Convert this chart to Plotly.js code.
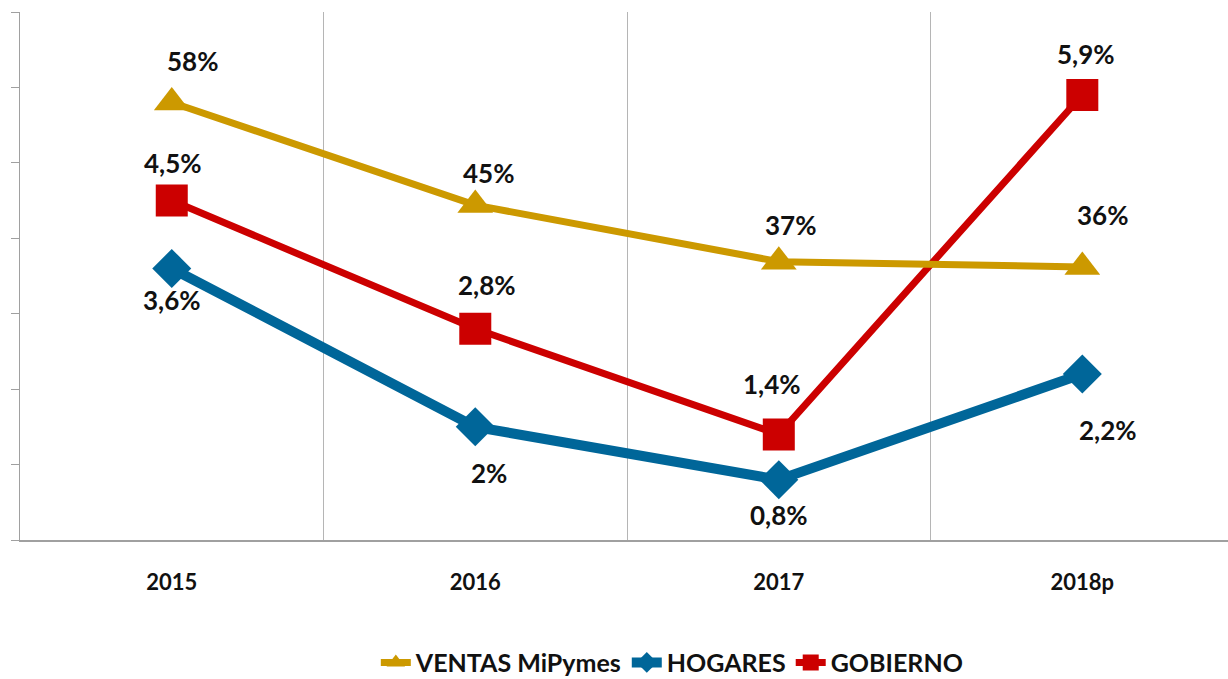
<!DOCTYPE html>
<html>
<head>
<meta charset="utf-8">
<script src="https://cdn.plot.ly/plotly-3.0.1.min.js"></script>
<style>html,body{margin:0;padding:0;background:#fff;}#chart{width:1228px;height:679px;}</style>
</head>
<body>
<div id="chart"></div>
<script>
const years = ['2015', '2016', '2017', '2018p'];

const ventasName = 'VENTAS MiPymes';
const ventasValues = [58, 44.4, 36.9, 36.2];
const ventasLabels = ['58%', '45%', '37%', '36%'];

const hogaresName = 'HOGARES';
const hogaresValues = [3.6, 1.5, 0.8, 2.2];
const hogaresLabels = ['3,6%', '2%', '0,8%', '2,2%'];

const gobiernoName = 'GOBIERNO';
const gobiernoValues = [4.5, 2.8, 1.4, 5.9];
const gobiernoLabels = ['4,5%', '2,8%', '1,4%', '5,9%'];

const FONT = 'Lato, "Open Sans", "DejaVu Sans", sans-serif';
const C_GOLD = '#CC9900', C_BLUE = '#006699', C_RED = '#CC0000';

const traces = [
  {name: ventasName, x: years, y: ventasValues, yaxis: 'y2', mode: 'lines+markers',
   line: {color: C_GOLD, width: 7}, marker: {symbol: 'triangle-up', size: 31, color: C_GOLD}},
  {name: hogaresName, x: years, y: hogaresValues, yaxis: 'y', mode: 'lines+markers',
   line: {color: C_BLUE, width: 10}, marker: {symbol: 'diamond', size: 30, color: C_BLUE}},
  {name: gobiernoName, x: years, y: gobiernoValues, yaxis: 'y', mode: 'lines+markers',
   line: {color: C_RED, width: 7}, marker: {symbol: 'square', size: 32, color: C_RED}}
];

// label offsets in pixels, [right, down] (style only)
const offVentas = [[21,-42],[13,-32],[12,-37],[20,-52]];
const offHog = [[0,32],[14,46],[0,35],[26,56]];
const offGob = [[1,-38],[12,-44],[-7,-50],[4,-41]];

const annotations = [];
function addLabels(vals, labels, yref, offs) {
  vals.forEach((v, i) => {
    annotations.push({x: i, y: v, xref: 'x', yref: yref, text: '<b>' + labels[i] + '</b>',
      showarrow: false, xshift: offs[i][0], yshift: -offs[i][1],
      font: {family: FONT, size: 26, color: '#111'}});
  });
}
addLabels(ventasValues, ventasLabels, 'y2', offVentas);
addLabels(hogaresValues, hogaresLabels, 'y', offHog);
addLabels(gobiernoValues, gobiernoLabels, 'y', offGob);

const layout = {
  width: 1228, height: 679,
  margin: {l: 20, r: 0, t: 12, b: 139, autoexpand: false},
  paper_bgcolor: '#fff', plot_bgcolor: '#fff',
  font: {family: FONT},
  showlegend: true,
  legend: {orientation: 'h', x: 0.54, xanchor: 'center', yref: 'container', y: 0.024, yanchor: 'middle',
    font: {family: FONT, size: 25, color: '#111', weight: 'bold'},
    itemwidth: 30, tracegroupgap: 0},
  xaxis: {type: 'category', range: [-0.5, 3.48], tickson: 'boundaries', showgrid: true, automargin: false,
    gridcolor: '#b5b5b5', gridwidth: 1, showline: true, linecolor: '#a0a0a0', linewidth: 1.5,
    ticks: '', tickfont: {family: FONT, size: 22, color: '#111', weight: 'bold'}, ticklabelstandoff: 22,
    zeroline: false, fixedrange: true},
  yaxis: {range: [0, 7], dtick: 1, showgrid: false, zeroline: false, showline: true, automargin: false,
    linecolor: '#a0a0a0', linewidth: 1.5, ticks: 'outside', ticklen: 8, tickcolor: '#a0a0a0',
    showticklabels: false},
  yaxis2: {range: [0, 70], overlaying: 'y', side: 'right', visible: false, showgrid: false, zeroline: false},
  annotations: annotations
};

Plotly.newPlot('chart', traces, layout, {displayModeBar: false, staticPlot: true});
</script>
</body>
</html>
